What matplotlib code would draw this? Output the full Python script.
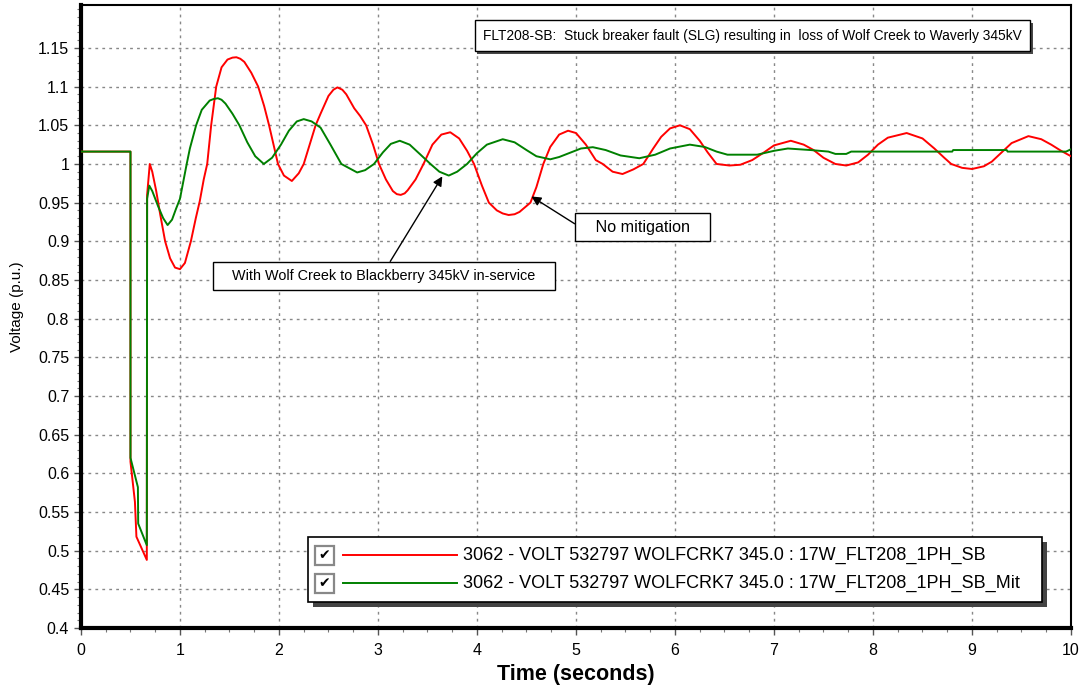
import matplotlib
matplotlib.use("Agg")
import matplotlib.pyplot as plt
import matplotlib.patheffects as pe
from matplotlib.patches import Rectangle
from matplotlib.ticker import MultipleLocator

plt.rcParams['font.family'] = ['Liberation Sans', 'DejaVu Sans']

# ------------------------------------------------------
# Data
# ------------------------------------------------------
red_t = [0.0, 0.5, 0.5, 0.545, 0.56, 0.665, 0.668, 0.695, 0.72, 0.76, 0.8, 0.85,
         0.9, 0.95, 1.0, 1.05, 1.11, 1.16, 1.2, 1.24, 1.275, 1.315, 1.366, 1.42,
         1.48, 1.53, 1.57, 1.61, 1.65, 1.72, 1.79, 1.85, 1.9, 1.99, 2.05, 2.13, 2.2, 2.25,
         2.31, 2.37, 2.42, 2.5, 2.55, 2.59, 2.64, 2.68, 2.76, 2.82, 2.88, 2.95, 3.01, 3.08,
         3.15, 3.19, 3.23, 3.27, 3.3, 3.38, 3.46, 3.55, 3.64, 3.73, 3.82, 3.9, 3.97, 4.05,
         4.12, 4.2, 4.26, 4.32, 4.38, 4.43, 4.54, 4.6, 4.67, 4.74, 4.83, 4.92, 5.0, 5.1,
         5.2, 5.27, 5.37, 5.47, 5.58, 5.68, 5.78, 5.86, 5.95, 6.05, 6.15, 6.25,
         6.33, 6.42, 6.55, 6.66, 6.78, 6.9, 7.0, 7.17, 7.3, 7.4, 7.5, 7.62,
         7.73, 7.85, 7.95, 8.05, 8.15, 8.34, 8.5, 8.62, 8.72, 8.79, 8.9, 9.0,
         9.12, 9.2, 9.3, 9.4, 9.57, 9.7, 9.8, 9.9, 10.0]
red_v = [1.016, 1.016, 0.615, 0.563, 0.518, 0.488, 0.96, 1.0, 0.99, 0.965, 0.935, 0.9,
         0.878, 0.866, 0.864, 0.872, 0.9, 0.93, 0.952, 0.98, 1.0, 1.05, 1.1, 1.125,
         1.135, 1.1375, 1.138, 1.136, 1.132, 1.118, 1.1, 1.075, 1.05, 1.0, 0.985, 0.978, 0.988, 1.0,
         1.025, 1.05, 1.065, 1.088, 1.096, 1.099, 1.096, 1.09, 1.072, 1.062, 1.05, 1.025, 1.0, 0.98,
         0.965, 0.961, 0.96, 0.962, 0.966, 0.98, 1.0, 1.025, 1.038, 1.041, 1.033, 1.017, 1.0, 0.972,
         0.95, 0.94, 0.936, 0.934, 0.935, 0.938, 0.95, 0.97, 1.0, 1.022, 1.038, 1.043, 1.04, 1.025,
         1.005, 1.0, 0.99, 0.987, 0.993, 1.0, 1.02, 1.035, 1.046, 1.05, 1.045, 1.03,
         1.015, 1.0, 0.998, 0.999, 1.005, 1.015, 1.024, 1.03, 1.025, 1.018, 1.008, 1.0,
         0.998, 1.002, 1.012, 1.025, 1.034, 1.04, 1.033, 1.02, 1.008, 1.0, 0.995, 0.9935,
         0.997, 1.003, 1.015, 1.027, 1.036, 1.032, 1.025, 1.017, 1.01]

green_t = [0.0, 0.5, 0.5, 0.575, 0.578, 0.665, 0.668, 0.69, 0.72, 0.78, 0.83, 0.875,
           0.92, 0.96, 1.0, 1.068, 1.1, 1.163, 1.22, 1.3, 1.34, 1.383, 1.42, 1.46, 1.53, 1.6,
           1.68, 1.76, 1.847, 1.93, 2.02, 2.1, 2.18, 2.25, 2.33, 2.42, 2.52, 2.63,
           2.79, 2.87, 2.96, 3.05, 3.13, 3.22, 3.32, 3.43, 3.53, 3.62, 3.715, 3.8,
           3.9, 4.0, 4.1, 4.26, 4.38, 4.5, 4.6, 4.74, 4.83, 4.95, 5.05, 5.17,
           5.3, 5.45, 5.64, 5.8, 5.95, 6.15, 6.3, 6.42, 6.53, 6.83, 7.0, 7.14,
           7.37, 7.55, 7.62, 7.73, 7.78, 8.0, 8.35, 8.8, 8.81, 9.35, 9.36, 9.95, 10.0]
green_v = [1.016, 1.016, 0.62, 0.582, 0.535, 0.507, 0.955, 0.972, 0.965, 0.945, 0.93, 0.921,
           0.928, 0.942, 0.955, 1.0, 1.02, 1.05, 1.07, 1.082, 1.084, 1.085, 1.083, 1.078, 1.065, 1.05,
           1.028, 1.01, 1.0, 1.008, 1.025, 1.043, 1.055, 1.058, 1.055, 1.047, 1.025, 1.0,
           0.989, 0.992, 1.0, 1.015, 1.026, 1.03, 1.025, 1.012, 1.0, 0.99, 0.985, 0.99,
           1.0, 1.014, 1.025, 1.032, 1.028, 1.018, 1.01, 1.006, 1.009, 1.015, 1.02, 1.0217,
           1.018, 1.011, 1.0074, 1.012, 1.02, 1.025, 1.022, 1.016, 1.012, 1.012, 1.017, 1.02,
           1.018, 1.016, 1.013, 1.013, 1.016, 1.016, 1.016, 1.016, 1.018, 1.018, 1.016, 1.016, 1.019]

series_labels = ["3062 - VOLT 532797 WOLFCRK7 345.0 : 17W_FLT208_1PH_SB",
                 "3062 - VOLT 532797 WOLFCRK7 345.0 : 17W_FLT208_1PH_SB_Mit"]
series_colors = ["#ff0000", "#008000"]

ytick_labels = ["0.4", "0.45", "0.5", "0.55", "0.6", "0.65", "0.7", "0.75", "0.8",
                "0.85", "0.9", "0.95", "1", "1.05", "1.1", "1.15"]

title_note = "FLT208-SB:  Stuck breaker fault (SLG) resulting in  loss of Wolf Creek to Waverly 345kV"

# ------------------------------------------------------
# Figure
# ------------------------------------------------------
fig = plt.figure(figsize=(10.84, 6.9), dpi=100)
ax = fig.add_axes([0.0747, 0.0899, 0.9133, 0.9029])

ax.plot(red_t, red_v, color=series_colors[0], lw=1.4, zorder=3)
ax.plot(green_t, green_v, color=series_colors[1], lw=1.4, zorder=4)

ax.set_xlim(0, 10)
ax.set_ylim(0.4, 1.2056)
ax.xaxis.set_major_locator(MultipleLocator(1))
ax.xaxis.set_minor_locator(MultipleLocator(0.25))
ax.set_yticks([0.4 + 0.05 * i for i in range(len(ytick_labels))])
ax.set_yticklabels(ytick_labels)
ax.yaxis.set_minor_locator(MultipleLocator(0.01))
ax.tick_params(which='major', direction='out', length=5, width=1, labelsize=11.5, color='#555555')
ax.tick_params(axis='x', which='major', pad=6)
ax.tick_params(which='minor', direction='out', length=3, width=0.8, color='#777777')
ax.grid(True, which='major', color='#888888', linestyle=(0, (2, 3)), lw=1.0)

for side in ['left', 'bottom']:
    ax.spines[side].set_linewidth(3)
for side in ['top', 'right']:
    ax.spines[side].set_linewidth(1.5)

ax.set_xlabel("Time (seconds)", fontsize=15.5, fontweight='bold', labelpad=4)
ax.set_ylabel("Voltage (p.u.)", fontsize=11)
ax.yaxis.set_label_coords(-0.058, 0.515)

# title note box with shadow
note = ax.text(6.78, 1.166, title_note, fontsize=9.9, ha='center', va='center', zorder=6,
               bbox=dict(boxstyle='square,pad=0.6', fc='white', ec='black', lw=1))
note.get_bbox_patch().set_path_effects([pe.SimplePatchShadow(offset=(2, -2), shadow_rgbFace='#333333', alpha=0.9), pe.Normal()])

# annotations
ax.annotate("   No mitigation   ", xy=(4.55, 0.958), xytext=(5.67, 0.918),
            fontsize=11.6, ha='center', va='center', zorder=6,
            bbox=dict(boxstyle='square,pad=0.4', fc='white', ec='black', lw=1),
            arrowprops=dict(arrowstyle='-|>', color='black', lw=1, mutation_scale=14,
                            shrinkA=0, shrinkB=0, relpos=(0, 0.45)))
ax.annotate("   With Wolf Creek to Blackberry 345kV in-service   ", xy=(3.65, 0.984), xytext=(3.06, 0.855),
            fontsize=10.35, ha='center', va='center', zorder=6,
            bbox=dict(boxstyle='square,pad=0.5', fc='white', ec='black', lw=1),
            arrowprops=dict(arrowstyle='-|>', color='black', lw=1, mutation_scale=14,
                            shrinkA=0, shrinkB=0, relpos=(0.505, 1.0)))

# custom legend with check boxes
tr = ax.transAxes
shadow = Rectangle((0.234, 0.034), 0.742, 0.104, transform=tr, fc='#444444', ec='none', zorder=7)
box = Rectangle((0.229, 0.0417), 0.742, 0.104, transform=tr, fc='white', ec='black', lw=1.2, zorder=8)
ax.add_patch(shadow)
ax.add_patch(box)
row_y = [0.117, 0.072]
for y, lab, col in zip(row_y, series_labels, series_colors):
    ax.add_patch(Rectangle((0.236, y - 0.016), 0.0195, 0.031, transform=tr, fc='white',
                           ec='#888888', lw=1.6, zorder=9))
    ax.text(0.2455, y, "\u2714", transform=tr, ha='center', va='center', fontsize=10,
            family=['DejaVu Sans'], zorder=10)
    ax.plot([0.265, 0.380], [y, y], transform=tr, color=col, lw=1.4, zorder=9)
    ax.text(0.386, y, lab, transform=tr, ha='left', va='center', fontsize=13, zorder=9)

fig.savefig("out.png", dpi=100)
